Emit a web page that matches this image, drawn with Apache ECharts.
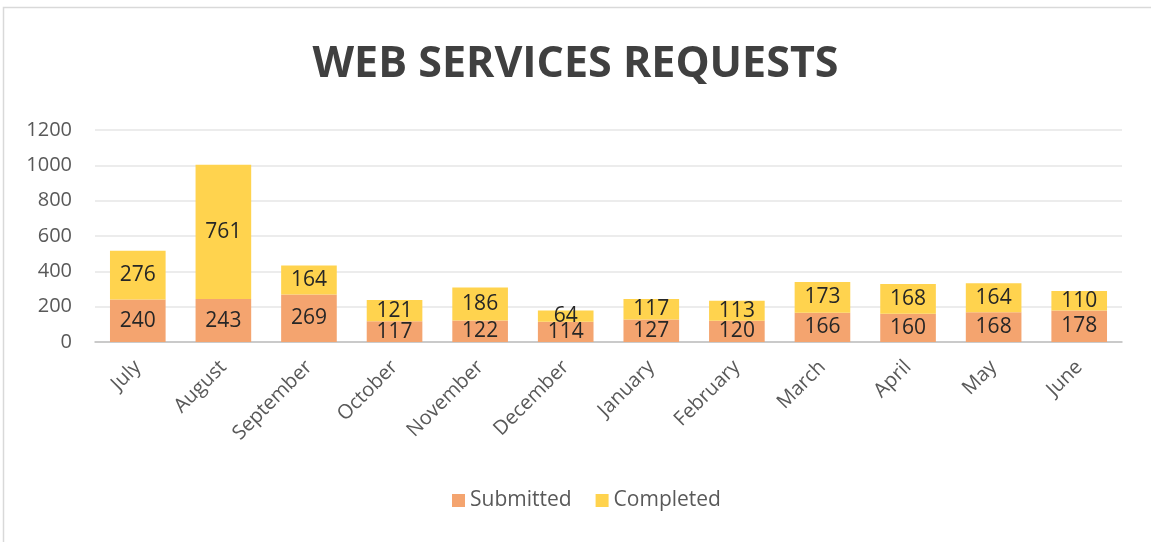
<!DOCTYPE html>
<html><head><meta charset="utf-8">
<script src="https://cdn.jsdelivr.net/npm/echarts@6/dist/echarts.min.js"></script>
<style>html,body{margin:0;padding:0;background:#fff}#c{width:1151px;height:542px}</style>
</head><body><div id="c"></div>
<script>
var categories = ['July','August','September','October','November','December','January','February','March','April','May','June'];
var submitted = [240,243,269,117,122,114,127,120,166,160,168,178];
var completed = [276,761,164,121,186,64,117,113,173,168,164,110];
var yTicks = [0,200,400,600,800,1000,1200];

var FONT = '"Open Sans", "Noto Sans", sans-serif';
var chart = echarts.init(document.getElementById('c'), null, {renderer:'canvas'});
var lbl = {show:true, position:'inside', color:'#262626', fontSize:21, fontFamily:FONT};
chart.setOption({
  animation:false,
  backgroundColor:'#fff',
  graphic:[{type:'rect', shape:{x:3.5,y:7.5,width:1200,height:600}, style:{fill:'none', stroke:'#D9D9D9', lineWidth:1.5}, silent:true}],
  title:{text:'WEB SERVICES REQUESTS', left:'center', top:38, textStyle:{fontSize:43, fontWeight:'bold', color:'#404040', fontFamily:FONT}},
  legend:{bottom:26, left:447, itemWidth:13, itemHeight:13, itemGap:24, icon:'rect',
    textStyle:{fontSize:21, color:'#595959', fontFamily:FONT}, data:['Submitted','Completed']},
  grid:{left:95, right:29, top:130, bottom:200, containLabel:false},
  xAxis:{type:'category', data:categories,
    axisLine:{lineStyle:{color:'#BFBFBF', width:1.5}}, axisTick:{show:false},
    axisLabel:{rotate:45, fontSize:20, color:'#595959', fontFamily:FONT, margin:22, interval:0}},
  yAxis:{type:'value', min:yTicks[0], max:yTicks[yTicks.length-1], interval:200,
    axisLine:{show:false}, axisTick:{show:false},
    splitLine:{lineStyle:{color:'#E6E6E6', width:1.5}},
    axisLabel:{fontSize:20, color:'#595959', fontFamily:FONT, margin:23, formatter:function(v){return String(v);}}},
  series:[
    {name:'Submitted', type:'bar', stack:'a', data:submitted, barWidth:'65%', itemStyle:{color:'#F4A46F'}, label:lbl},
    {name:'Completed', type:'bar', stack:'a', data:completed, barWidth:'65%', itemStyle:{color:'#FFD34E'}, label:lbl}
  ]
});
</script></body></html>
